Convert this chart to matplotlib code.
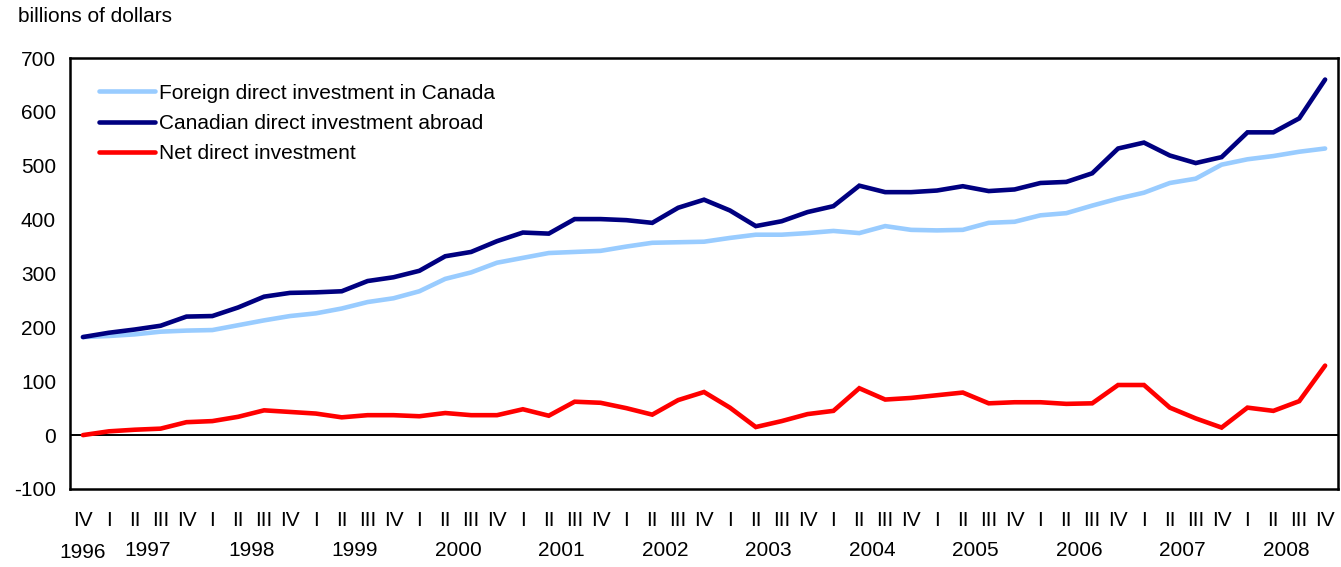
import matplotlib
matplotlib.use("Agg")
import matplotlib.pyplot as plt
import matplotlib.transforms as mtransforms

plt.rcParams["font.family"] = ["Liberation Sans", "DejaVu Sans"]
plt.rcParams["axes.unicode_minus"] = False

# Quarterly data, 1996 Q4 to 2008 Q4 (billions of dollars)
quarters = ["IV"] + ["I", "II", "III", "IV"] * 12
years = ["1996", "1997", "1998", "1999", "2000", "2001", "2002",
         "2003", "2004", "2005", "2006", "2007", "2008"]

fdi_canada = [182, 184, 187, 192, 194, 195, 204, 213, 221, 226, 235, 247, 254,
              267, 290, 302, 320, 329, 338, 340, 342, 350, 357, 358, 359,
              366, 372, 372, 375, 379, 375, 388, 381, 380, 381, 394, 396,
              408, 412, 426, 439, 450, 468, 476, 502, 512, 518, 526, 532]
cdia_abroad = [182, 190, 196, 203, 220, 221, 237, 257, 264, 265, 267, 286, 293,
               305, 332, 340, 360, 376, 374, 401, 401, 399, 394, 422, 437,
               417, 388, 397, 414, 425, 463, 451, 451, 454, 462, 453, 456,
               468, 470, 486, 532, 543, 519, 505, 516, 562, 562, 588, 660]
net_direct = [0, 7, 10, 12, 24, 26, 34, 46, 43, 40, 33, 37, 37,
              35, 41, 37, 37, 48, 36, 62, 60, 50, 38, 65, 80,
              51, 15, 26, 39, 45, 87, 66, 69, 74, 79, 59, 61,
              61, 58, 59, 93, 93, 51, 31, 14, 51, 45, 63, 129]

fig = plt.figure(figsize=(13.41, 5.67), dpi=100)
ax = fig.add_axes([0.0522, 0.1376, 0.9456, 0.7601])

x = list(range(len(quarters)))
ax.plot(x, fdi_canada, color="#99CCFF", lw=3.3, label="Foreign direct investment in Canada",
        solid_capstyle="round", solid_joinstyle="miter")
ax.plot(x, cdia_abroad, color="#000080", lw=3.3, label="Canadian direct investment abroad",
        solid_capstyle="round", solid_joinstyle="miter")
ax.plot(x, net_direct, color="#FF0000", lw=3.3, label="Net direct investment",
        solid_capstyle="round", solid_joinstyle="miter")
ax.axhline(0, color="black", lw=1.4, zorder=1)

ax.set_xlim(-0.5, len(quarters) - 0.5)
ax.set_ylim(-100, 700)
ax.set_yticks(range(-100, 701, 100))
ax.set_xticks(x)
ax.set_xticklabels(quarters)
ax.tick_params(axis="both", length=0, labelsize=15)
ax.tick_params(axis="y", pad=10)
ax.tick_params(axis="x", pad=16)
for s in ax.spines.values():
    s.set_linewidth(1.8)

# year labels centred under each year's quarters
trans = mtransforms.blended_transform_factory(ax.transData, ax.transAxes)
ax.text(0, -0.148, years[0], transform=trans, ha="center", va="center", fontsize=15)
for i, yr in enumerate(years[1:]):
    ax.text(1 + 4 * i + 1.5, -0.142, yr, transform=trans, ha="center", va="center", fontsize=15)

fig.text(18 / 1341, 1 - 16 / 567, "billions of dollars", ha="left", va="center", fontsize=15)

ax.legend(loc="upper left", bbox_to_anchor=(0.016, 0.96), frameon=False, fontsize=15,
          handlelength=2.7, handletextpad=0.2, labelspacing=0.55, borderaxespad=0)

fig.savefig("out.png", dpi=100)
